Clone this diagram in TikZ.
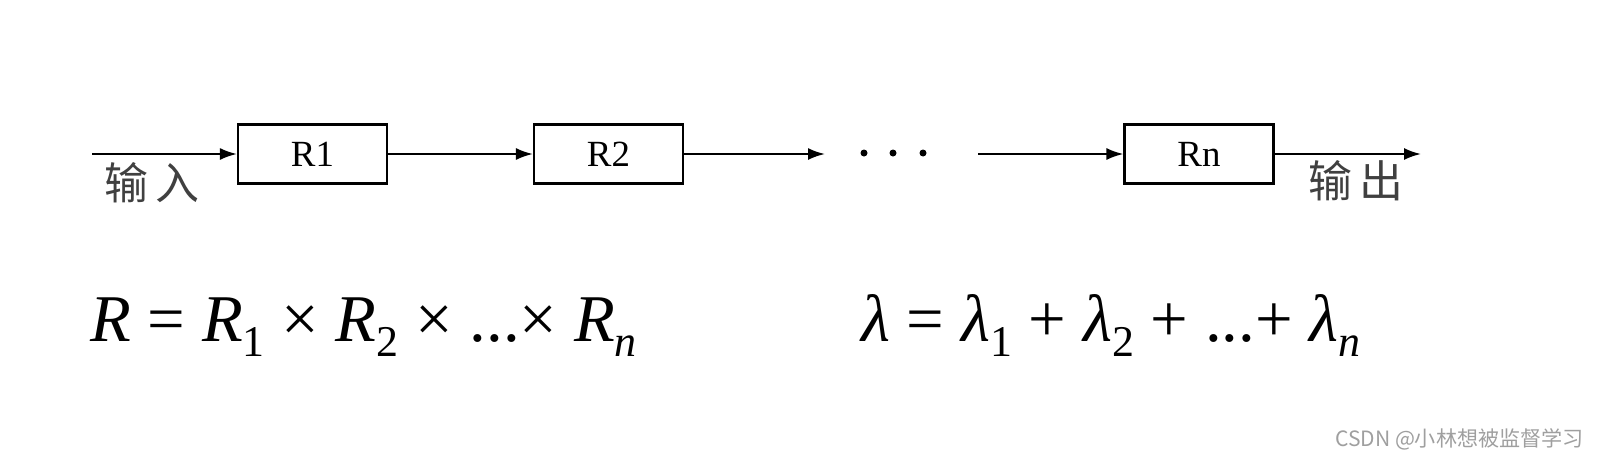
\documentclass[tikz,border=0pt]{standalone}
\usepackage{fontspec}
\setmainfont{Liberation Serif}
\newfontfamily\cjk{Noto Sans CJK SC}
\usetikzlibrary{arrows.meta,positioning}

% tiefgestellter Index
\newcommand{\idx}[1]{\raisebox{-0.5ex}{\fontsize{25}{28}\selectfont #1}}

\begin{document}
\begin{tikzpicture}[x=0.02cm,y=-0.02cm,
    block/.style={draw, line width=1.2pt, minimum width=2.98cm, minimum height=1.18cm,
      inner sep=0pt, font=\fontsize{21}{24}\selectfont},
    flow/.style={-{Latex[length=0.34cm,width=0.24cm]}, line width=1.2pt},
    cntext/.style={text=black!75, font=\cjk\fontsize{25}{28}\selectfont},
    formula/.style={anchor=base west, inner sep=0pt, font=\fontsize{38}{46}\selectfont}]

    \useasboundingbox (0,0) rectangle (1597,460);

    % Bloecke
    \node[block] (r1) at (312.5,154) {R1};
    \node[block] (r2) at (608.5,154) {R2};
    \node[block] (rn) at (1199,154) {Rn};

    % Ein- und Ausgang
    \coordinate (in) at (92,154);
    \coordinate (out) at (1421,154);
    \coordinate (gapl) at (825,154);
    \coordinate (gapr) at (978,154);

    % Pfeile
    \draw[flow] (in) -- (r1);
    \draw[flow] (r1) -- (r2);
    \draw[flow] (r2) -- (gapl);
    \draw[flow] (gapr) -- (rn);
    \draw[flow] (rn) -- (out);

    % Punkte
    \foreach \x in {864, 893, 923} {
        \fill (\x,153) circle (3.5);
    }

    % Beschriftung
    \node[cntext] (inlabel) at (152,183) {输\,入};
    \node[cntext] (outlabel) at (1356,181) {输\,出};

    % Formeln
    \node[formula] (rel) at (90,341)
      {\textit{R} = \textit{R}\idx{1} × \textit{R}\idx{2} × ...× \textit{R}\idx{\textit{n}}};
    \node[formula] (rate) at (861,341)
      {\textit{λ} = \textit{λ}\idx{1} + \textit{λ}\idx{2} + ...+ \textit{λ}\idx{\textit{n}}};

    % Wasserzeichen
    \node[anchor=base east, inner sep=0pt, text=gray!75, font=\cjk\fontsize{12}{14}\selectfont]
      (mark) at (1584,446) {CSDN @小林想被监督学习};

\end{tikzpicture}
\end{document}
